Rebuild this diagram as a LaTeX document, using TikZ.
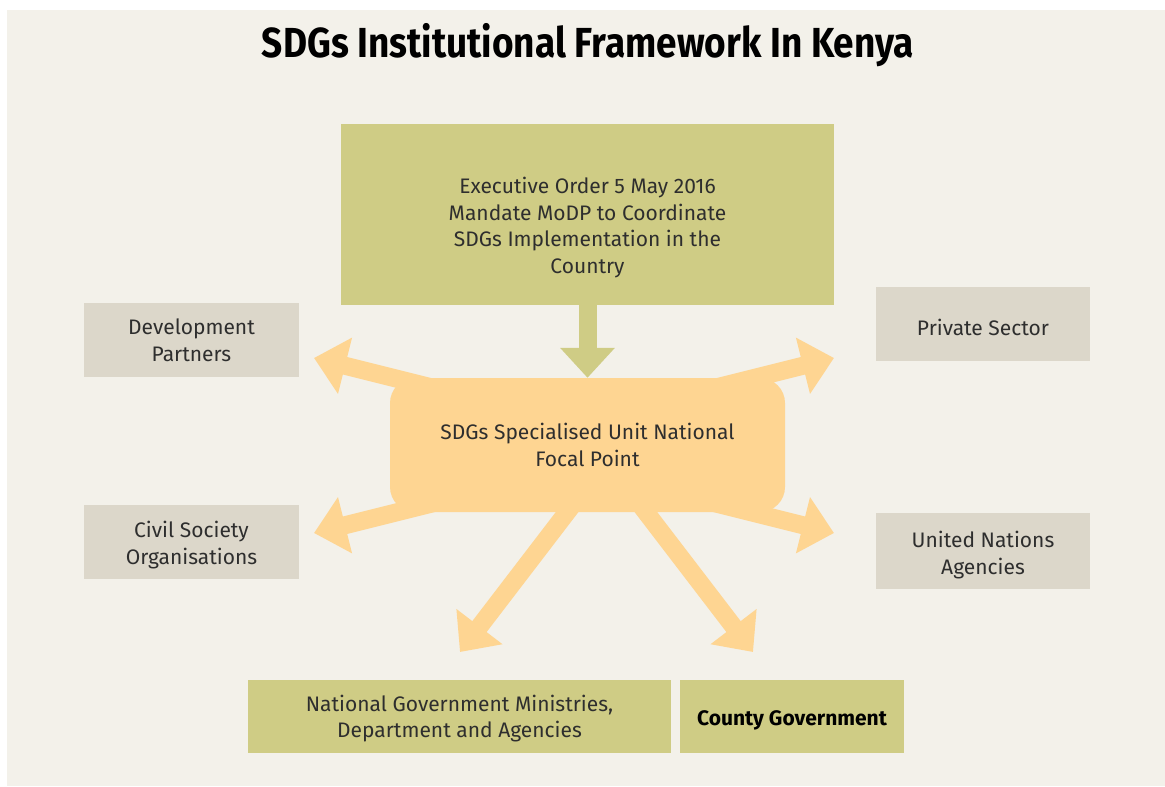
\documentclass[tikz,border=0pt]{standalone}
\usepackage{fontspec}
\setmainfont{Fira Sans}
\newfontfamily\titlefont{Fira Sans}[FakeStretch=0.88]
\usetikzlibrary{arrows.meta}
\definecolor{bgc}{HTML}{F3F1EA}
\definecolor{greenc}{HTML}{CFCC85}
\definecolor{grayc}{HTML}{DCD7CA}
\definecolor{orangec}{HTML}{FED592}
\definecolor{txtc}{HTML}{2E2E2E}
\tikzset{
  box/.style={inner sep=2pt, align=center, text=txtc, font=\fontsize{21}{26.7}\selectfont},
  greenbox/.style={box, fill=greenc},
  graybox/.style={box, fill=grayc},
  focalbox/.style={box, fill=orangec, rounded corners=25pt},
  boxtext/.style={inner sep=0pt, align=center, text=txtc, font=\fontsize{21}{26.7}\selectfont},
  orarrow/.style={draw=orangec, line width=18pt, -{Triangle[length=32pt,width=56pt]}},
  grarrow/.style={draw=greenc, line width=18pt, -{Triangle[length=30pt,width=53pt]}}
}
\begin{document}
\begin{tikzpicture}[x=1pt,y=-1pt]
\useasboundingbox (0,0) rectangle (1165,787);
\fill[white] (0,0) rectangle (1165,787);
\fill[bgc] (7,10) rectangle (1165,786);
\node[anchor=base, text=black, font=\titlefont\bfseries\fontsize{42}{46}\selectfont] (title) at (588,57) {SDGs Institutional Framework In Kenya};
% arrow coordinates
\coordinate (sUL) at (450,392);
\coordinate (tUL) at (314,358);
\coordinate (sUR) at (698,392);
\coordinate (tUR) at (834,358);
\coordinate (sLL) at (450,499);
\coordinate (tLL) at (314,533);
\coordinate (sLR) at (698,499);
\coordinate (tLR) at (834,533);
\coordinate (sBL) at (584,490);
\coordinate (tBL) at (460,652);
\coordinate (sBR) at (629,490);
\coordinate (tBR) at (753,652);
\draw[orarrow] (sUL) -- (tUL);
\draw[orarrow] (sUR) -- (tUR);
\draw[orarrow] (sLL) -- (tLL);
\draw[orarrow] (sLR) -- (tLR);
\draw[orarrow] (sBL) -- (tBL);
\draw[orarrow] (sBR) -- (tBR);
% nodes
\node[greenbox, minimum width=493pt, minimum height=181pt,
  label={[boxtext, yshift=-13pt]center:Executive Order 5 May 2016\\Mandate MoDP to Coordinate\\SDGs Implementation in the\\Country}] (top) at (587.5,214.5) {};
\node[focalbox, minimum width=395pt, minimum height=134pt] (focal) at (587.5,445)
  {SDGs Specialised Unit National\\Focal Point};
\node[graybox, minimum width=215pt, minimum height=74pt] (dev) at (191.5,340) {Development\\Partners};
\node[graybox, minimum width=215pt, minimum height=74pt,
  label={[boxtext, yshift=-3pt]center:Civil Society\\Organisations}] (civil) at (191.5,542) {};
\node[graybox, minimum width=214pt, minimum height=74pt,
  label={[boxtext, yshift=-3pt]center:Private Sector}] (private) at (983,324) {};
\node[graybox, minimum width=214pt, minimum height=76pt,
  label={[boxtext, yshift=-4pt]center:United Nations\\Agencies}] (un) at (983,551) {};
\node[greenbox, minimum width=423pt, minimum height=73pt,
  label={[boxtext, yshift=-2pt]center:National Government Ministries,\\Department and Agencies}] (natl) at (459.5,716.5) {};
\node[greenbox, minimum width=224pt, minimum height=73pt,
  label={[boxtext, yshift=-4pt, text=black, font=\bfseries\fontsize{21}{26.7}\selectfont]center:County Government}] (county) at (792,716.5) {};
\draw[grarrow] (top.south) -- (focal.north);
\end{tikzpicture}
\end{document}
